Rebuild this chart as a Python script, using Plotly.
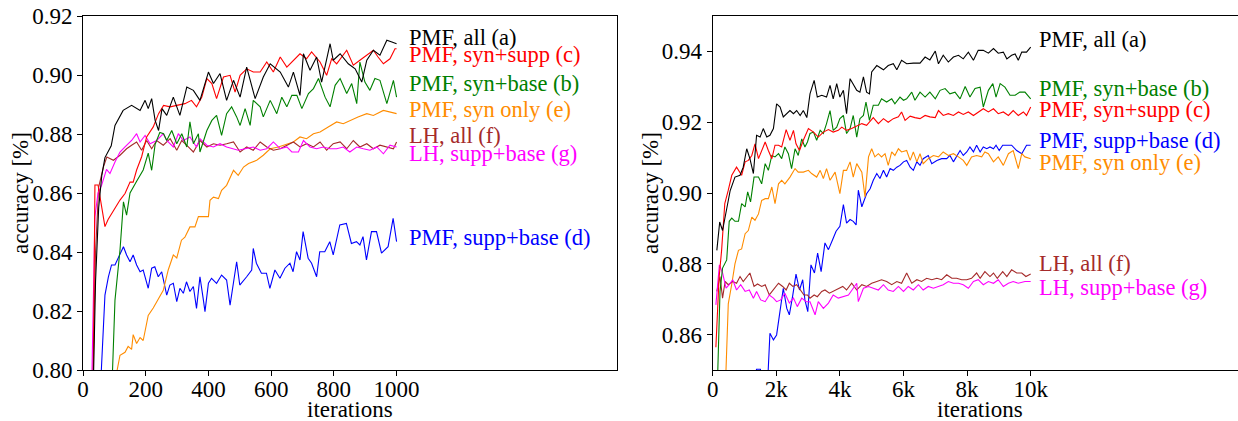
import plotly.graph_objects as go

FONT = "Liberation Serif, Times New Roman, serif"

# ---------------- Left panel data (iterations 0..1000) ----------------
L_all_x = [30,40,50,60,70,80,90,102,128,155,182,198,208,219,230,241,252,267,288,309,331,352,373,400,416,437,458,480,501,522,549,575,597,629,655,671,692,703,724,745,761,788,798,820,846,868,889,905,926,947,969,985,1000]
L_all_y = [0.78,0.83,0.855,0.866,0.872,0.874,0.876,0.8829,0.888,0.8897,0.888,0.8914,0.8886,0.892,0.8846,0.8812,0.8886,0.8863,0.8925,0.8863,0.8959,0.8948,0.8914,0.901,0.8971,0.9005,0.8914,0.8982,0.8925,0.9027,0.892,0.8993,0.9038,0.901,0.8959,0.901,0.8931,0.9072,0.9016,0.9061,0.8976,0.9106,0.905,0.9072,0.9038,0.9021,0.8976,0.905,0.9084,0.9067,0.9118,0.9112,0.9106]

L_synsupp_x = [30,38,48,70,80,102,118,134,150,160,171,187,203,224,241,257,278,299,325,346,362,379,395,411,426,448,469,485,501,522,543,565,586,607,629,650,671,692,713,729,756,777,793,809,841,862,883,905,926,941,958,979,995,1000]
L_synsupp_y = [0.76,0.8627,0.8627,0.8486,0.851,0.8548,0.8576,0.8598,0.8637,0.8637,0.8678,0.8723,0.879,0.8824,0.8869,0.8897,0.8892,0.8897,0.8903,0.8914,0.8892,0.8925,0.8988,0.8971,0.892,0.8993,0.8999,0.8942,0.8999,0.9021,0.901,0.901,0.9044,0.901,0.9061,0.9027,0.905,0.9072,0.9055,0.9078,0.9044,0.8999,0.9055,0.9038,0.9084,0.9033,0.905,0.9067,0.9084,0.9061,0.9038,0.9055,0.9089,0.9089]

L_synbase_x = [91,102,118,129,139,150,171,192,208,219,230,245,257,267,283,299,315,331,341,352,368,373,395,411,426,442,458,474,490,501,517,533,543,565,575,597,618,634,650,666,682,698,719,735,751,772,788,804,820,841,857,873,883,899,915,931,947,969,990,1000]
L_synbase_y = [0.79,0.8237,0.8407,0.857,0.8525,0.860,0.864,0.8678,0.8735,0.8677,0.8765,0.8805,0.8801,0.8778,0.8812,0.8767,0.8801,0.8756,0.8841,0.8767,0.8801,0.8739,0.8812,0.8846,0.8863,0.8795,0.8869,0.8892,0.8858,0.8829,0.8886,0.8829,0.8914,0.8892,0.8858,0.8914,0.8869,0.8925,0.8892,0.8931,0.8931,0.8886,0.8937,0.8954,0.8988,0.8925,0.8892,0.8965,0.8988,0.8937,0.8971,0.8903,0.9044,0.8976,0.8948,0.8988,0.8982,0.8903,0.8982,0.8925]

L_synonly_x = [91,118,134,144,155,160,171,182,192,208,224,235,245,256,272,288,299,314,325,341,357,368,384,400,405,416,432,442,458,480,495,512,528,554,575,597,623,650,671,692,713,735,756,782,809,830,851,877,905,926,958,979,1000]
L_synonly_y = [0.79,0.805,0.806,0.808,0.807,0.812,0.809,0.811,0.810,0.8185,0.821,0.823,0.825,0.827,0.834,0.839,0.838,0.844,0.845,0.8485,0.8485,0.852,0.852,0.852,0.8575,0.8586,0.8581,0.8609,0.8626,0.8677,0.866,0.8688,0.870,0.8711,0.8728,0.875,0.8756,0.8767,0.8773,0.879,0.8784,0.8801,0.8807,0.8824,0.8841,0.8835,0.8846,0.8858,0.8869,0.8863,0.888,0.8875,0.8869]

L_lhall_x = [30,40,50,65,76,97,118,139,155,171,187,203,219,235,256,278,299,315,336,352,373,395,416,437,458,480,501,522,543,565,586,607,629,650,671,692,713,735,756,777,798,820,841,862,883,905,926,947,969,990,1000]
L_lhall_y = [0.79,0.84,0.862,0.8688,0.8722,0.8711,0.8728,0.875,0.8762,0.8773,0.8745,0.8778,0.875,0.8778,0.8762,0.8784,0.8745,0.8778,0.8756,0.8739,0.8778,0.8756,0.8767,0.8762,0.8767,0.8773,0.8739,0.8756,0.8745,0.8773,0.8756,0.8745,0.875,0.8762,0.8773,0.8756,0.8767,0.8756,0.8773,0.8745,0.8767,0.8773,0.875,0.8778,0.8756,0.8767,0.875,0.8762,0.8756,0.875,0.8773]

L_lhsb_x = [27,38,48,59,75,86,102,118,134,155,171,182,198,214,235,256,267,288,304,320,341,362,373,395,416,437,458,480,495,517,543,565,586,607,629,650,666,687,703,724,745,766,788,809,830,851,873,894,915,937,958,979,1000]
L_lhsb_y = [0.79,0.852,0.860,0.8625,0.868,0.8666,0.8705,0.8739,0.8756,0.8778,0.8801,0.8773,0.8795,0.8767,0.8778,0.8801,0.8778,0.8756,0.8801,0.8778,0.879,0.8756,0.8784,0.8762,0.8756,0.8767,0.8756,0.875,0.8745,0.875,0.8756,0.8745,0.875,0.8773,0.875,0.8756,0.8739,0.8739,0.8778,0.8756,0.875,0.8756,0.875,0.875,0.8756,0.8739,0.8756,0.875,0.8745,0.8756,0.8733,0.8762,0.8756]

L_suppbase_x = [54,70,81,91,102,113,129,139,150,160,171,182,192,208,219,229,240,251,267,277,288,299,309,320,330,341,352,362,373,384,389,400,410,426,442,458,469,490,500,522,538,543,553,569,585,596,612,628,644,660,670,681,692,702,718,729,745,755,771,787,798,819,840,856,872,883,893,904,920,936,952,973,989,1000]
L_suppbase_y = [0.79,0.8254,0.8316,0.8356,0.8356,0.8379,0.8418,0.839,0.8367,0.839,0.8356,0.8333,0.8339,0.8277,0.8345,0.835,0.8316,0.8333,0.8254,0.8288,0.8294,0.8232,0.8277,0.826,0.8299,0.8266,0.8283,0.8209,0.8316,0.8237,0.8198,0.8294,0.8311,0.8294,0.8322,0.8305,0.822,0.8367,0.8288,0.8316,0.8339,0.8412,0.8362,0.8328,0.8328,0.8277,0.8339,0.8311,0.8345,0.8362,0.8333,0.8401,0.8373,0.8469,0.8379,0.8362,0.8316,0.8401,0.8401,0.8435,0.839,0.8492,0.8497,0.8429,0.8435,0.8424,0.8452,0.8373,0.8469,0.8469,0.8396,0.8418,0.8514,0.8435]

# ---------------- Right panel data (iterations 0..10k) ----------------
R_all_x = [130,220,310,440,550,700,860,960,1070,1170,1280,1380,1490,1590,1700,1800,1910,2010,2120,2220,2330,2430,2540,2640,2750,2850,2960,3060,3190,3290,3430,3580,3690,3790,3900,4000,4110,4210,4320,4420,4530,4630,4740,4840,4930,5000,5160,5370,5520,5680,5790,5940,6100,6310,6520,6680,6830,7000,7100,7250,7410,7570,7730,7880,8040,8200,8350,8510,8670,8830,8980,9140,9250,9400,9510,9610,9720,9870,10000]
R_all_y = [0.8838,0.8918,0.8894,0.8951,0.9007,0.9045,0.905,0.9073,0.9125,0.9097,0.9055,0.9163,0.9158,0.9182,0.9158,0.9163,0.9182,0.9252,0.9243,0.9215,0.9224,0.9233,0.9224,0.9233,0.9219,0.9233,0.9213,0.928,0.9318,0.9271,0.9276,0.9271,0.9304,0.9266,0.9309,0.9271,0.929,0.9224,0.9323,0.9309,0.929,0.9285,0.9328,0.9285,0.928,0.9342,0.936,0.9348,0.936,0.9365,0.9348,0.9375,0.9365,0.9367,0.9367,0.9384,0.9376,0.9401,0.9365,0.9389,0.937,0.9384,0.9389,0.9379,0.9398,0.9375,0.9403,0.9403,0.9395,0.9408,0.9395,0.9398,0.9379,0.9389,0.9393,0.9375,0.9398,0.9398,0.9412]

R_synsupp_x = [100,200,280,380,490,600,750,910,1020,1120,1230,1330,1440,1540,1650,1750,1860,1960,2070,2170,2310,2430,2540,2620,2730,2850,3010,3170,3320,3480,3640,3790,3950,4060,4210,4370,4530,4690,4840,5050,5210,5370,5520,5680,5840,5940,6050,6210,6360,6520,6680,6830,7000,7100,7250,7410,7570,7730,7880,8040,8200,8350,8510,8670,8830,8980,9140,9300,9450,9610,9770,9870,10000]
R_synsupp_y = [0.8564,0.876,0.8838,0.897,0.9008,0.905,0.9073,0.905,0.9088,0.9092,0.9106,0.9139,0.9097,0.912,0.9144,0.912,0.9097,0.9135,0.9135,0.913,0.9179,0.9149,0.9177,0.9139,0.912,0.9149,0.9182,0.9172,0.9158,0.9172,0.9179,0.9172,0.9177,0.9186,0.9177,0.9182,0.9188,0.9196,0.9191,0.9213,0.9196,0.921,0.920,0.921,0.9215,0.9229,0.9205,0.9217,0.9213,0.921,0.9219,0.9215,0.9213,0.9233,0.9219,0.9224,0.9219,0.9229,0.9222,0.9229,0.9219,0.9229,0.9238,0.9229,0.9238,0.9224,0.9229,0.9219,0.9233,0.9219,0.9229,0.9219,0.9243]

R_synbase_x = [130,230,310,440,520,600,700,810,910,1020,1100,1190,1300,1440,1540,1650,1750,1860,1960,2070,2170,2270,2380,2480,2590,2690,2800,2900,2980,3060,3170,3270,3380,3480,3580,3690,3790,3900,4000,4110,4210,4320,4420,4530,4630,4740,4820,4930,5050,5210,5310,5470,5630,5730,5890,6000,6100,6260,6360,6520,6680,6830,7000,7150,7310,7460,7620,7780,7940,8090,8250,8410,8510,8670,8810,8910,9040,9190,9350,9510,9660,9820,10000]
R_synbase_y = [0.84,0.8722,0.8788,0.8811,0.892,0.8929,0.892,0.892,0.897,0.8961,0.9003,0.8975,0.9045,0.9045,0.9026,0.9083,0.9064,0.9106,0.9102,0.9111,0.9097,0.913,0.9111,0.9069,0.9125,0.9106,0.9153,0.913,0.9144,0.9168,0.9172,0.9149,0.9177,0.9168,0.9196,0.9233,0.9177,0.9186,0.921,0.9219,0.9168,0.9182,0.9219,0.9158,0.921,0.9219,0.9257,0.9205,0.9248,0.9248,0.9266,0.9257,0.9266,0.9252,0.9271,0.9262,0.9266,0.9285,0.9262,0.9285,0.9271,0.9285,0.9266,0.929,0.9295,0.928,0.9285,0.9266,0.9301,0.9271,0.9295,0.9299,0.9243,0.929,0.9309,0.9271,0.9309,0.9299,0.9276,0.9276,0.9285,0.9285,0.9266]

R_synonly_x = [380,490,600,700,810,910,1020,1120,1230,1330,1440,1540,1650,1750,1860,1960,2070,2170,2270,2430,2590,2690,2850,3010,3110,3270,3380,3480,3580,3690,3850,4000,4110,4210,4320,4420,4530,4690,4790,4900,5000,5100,5210,5310,5420,5520,5630,5730,5840,5940,6100,6210,6310,6420,6520,6620,6780,6940,7100,7250,7410,7570,7730,7880,7990,8140,8300,8460,8560,8670,8830,8980,9140,9300,9450,9610,9720,9820,10000]
R_synonly_y = [0.84,0.8687,0.8743,0.88,0.8838,0.8842,0.8885,0.8894,0.8932,0.8923,0.8941,0.8979,0.8984,0.8984,0.9017,0.897,0.9026,0.9036,0.9026,0.9045,0.9069,0.9059,0.9059,0.9064,0.9055,0.9045,0.9064,0.9041,0.9069,0.9036,0.9059,0.8998,0.9064,0.9064,0.9088,0.9045,0.9083,0.9059,0.8989,0.9102,0.9125,0.9102,0.9111,0.9102,0.9111,0.9078,0.9116,0.9106,0.9125,0.9116,0.912,0.9092,0.9116,0.9088,0.9111,0.9083,0.9097,0.9106,0.9102,0.9116,0.9106,0.9111,0.9102,0.9092,0.9078,0.9102,0.9106,0.9102,0.9116,0.9111,0.9088,0.9102,0.9078,0.9111,0.912,0.9069,0.9111,0.9102,0.9097]

R_suppbase_x = [1000,1200,1380,1500,1600,1720,1800,1910,2010,2120,2220,2330,2410,2520,2620,2730,2830,2900,2990,3090,3200,3300,3410,3530,3640,3770,3880,4000,4110,4210,4320,4420,4510,4580,4690,4840,4950,5050,5160,5260,5370,5470,5580,5680,5790,5890,6000,6100,6210,6310,6420,6520,6620,6780,6890,7050,7200,7360,7460,7570,7670,7780,7880,7990,8090,8200,8300,8410,8510,8620,8720,8830,8910,9010,9120,9250,9400,9560,9720,9870,10000]
R_suppbase_y = [0.84,0.845,0.8502,0.8502,0.846,0.845,0.8604,0.8585,0.8599,0.8665,0.8731,0.8674,0.8656,0.8712,0.8771,0.8726,0.8755,0.8698,0.8665,0.8797,0.8774,0.883,0.8778,0.8859,0.884,0.8868,0.8892,0.8906,0.8967,0.8915,0.8925,0.892,0.891,0.9008,0.8961,0.8998,0.9012,0.9036,0.9055,0.9041,0.9064,0.9045,0.9069,0.9064,0.9073,0.9078,0.9088,0.9092,0.9073,0.9064,0.9088,0.9078,0.9097,0.9106,0.9083,0.9092,0.9097,0.9097,0.9106,0.9088,0.9102,0.912,0.9106,0.9116,0.913,0.9116,0.9135,0.9116,0.913,0.9125,0.913,0.9125,0.9135,0.912,0.9135,0.9135,0.9135,0.912,0.9111,0.9135,0.9135]

R_lhall_x = [130,230,310,390,490,630,750,860,960,1090,1170,1300,1410,1540,1650,1780,1910,2070,2200,2310,2410,2520,2640,2770,2870,2980,3060,3190,3290,3430,3530,3670,3790,3950,4090,4210,4370,4530,4690,4840,5000,5160,5310,5470,5630,5790,5940,6100,6260,6420,6570,6730,6890,7050,7200,7360,7520,7670,7830,7990,8140,8300,8410,8560,8720,8830,8950,9120,9250,9400,9560,9720,9850,10000]
R_lhall_y = [0.8722,0.8764,0.8703,0.875,0.8741,0.875,0.8745,0.8764,0.875,0.8764,0.8774,0.8736,0.8743,0.8736,0.8741,0.8712,0.8726,0.8745,0.8736,0.8726,0.8745,0.8736,0.8741,0.8726,0.8712,0.8712,0.8703,0.8712,0.8707,0.8722,0.8726,0.8717,0.8722,0.8731,0.8736,0.8726,0.8745,0.8726,0.8741,0.8736,0.8745,0.875,0.8755,0.875,0.8741,0.875,0.8745,0.8774,0.8745,0.8755,0.875,0.8759,0.8755,0.8759,0.8755,0.8769,0.8759,0.8759,0.8755,0.8755,0.8759,0.8774,0.8759,0.8778,0.8764,0.8774,0.8759,0.8778,0.8764,0.8783,0.8774,0.8774,0.8764,0.8771]

R_lhsb_x = [100,210,310,420,520,630,750,880,1020,1150,1280,1380,1510,1650,1780,1910,2010,2140,2270,2410,2540,2660,2800,2940,3060,3220,3320,3480,3640,3790,3950,4110,4270,4420,4530,4580,4740,4900,5050,5210,5370,5520,5680,5840,6000,6150,6310,6470,6620,6780,6940,7100,7250,7410,7570,7730,7880,8040,8200,8350,8510,8670,8830,8980,9140,9300,9450,9610,9820,10000]
R_lhsb_y = [0.8684,0.8797,0.8774,0.8731,0.8741,0.8755,0.8726,0.8741,0.8722,0.8726,0.8703,0.8722,0.8698,0.8693,0.8712,0.8703,0.8693,0.8698,0.8717,0.8689,0.8703,0.8679,0.8703,0.8693,0.8693,0.8656,0.8693,0.8674,0.8689,0.8712,0.8703,0.8707,0.8712,0.8731,0.8745,0.8693,0.8731,0.8736,0.8731,0.8726,0.8741,0.8726,0.8722,0.8736,0.8722,0.8736,0.8726,0.8741,0.8726,0.8736,0.8731,0.8736,0.8741,0.875,0.8745,0.8745,0.8741,0.8731,0.875,0.8755,0.8741,0.875,0.8745,0.8755,0.8736,0.8745,0.875,0.8745,0.875,0.875]

# series names / colours
NAMES = ["PMF, all (a)", "PMF, syn+base (b)", "PMF, syn+supp (c)", "PMF, supp+base (d)",
         "PMF, syn only (e)", "LH, all (f)", "LH, supp+base (g)"]
COLORS = ["#000000", "#008000", "#ff0000", "#0000ff", "#ff8c00", "#a52a2a", "#ff00ff"]

left_series = [(L_all_x, L_all_y), (L_synbase_x, L_synbase_y), (L_synsupp_x, L_synsupp_y),
               (L_suppbase_x, L_suppbase_y), (L_synonly_x, L_synonly_y),
               (L_lhall_x, L_lhall_y), (L_lhsb_x, L_lhsb_y)]
right_series = [(R_all_x, R_all_y), (R_synbase_x, R_synbase_y), (R_synsupp_x, R_synsupp_y),
                (R_suppbase_x, R_suppbase_y), (R_synonly_x, R_synonly_y),
                (R_lhall_x, R_lhall_y), (R_lhsb_x, R_lhsb_y)]

# tick labels
L_xticks = [0, 200, 400, 600, 800, 1000]
L_yticks = [0.80, 0.82, 0.84, 0.86, 0.88, 0.90, 0.92]
R_xticks = [0, 2000, 4000, 6000, 8000, 10000]
R_xticktext = ["0", "2k", "4k", "6k", "8k", "10k"]
R_yticks = [0.86, 0.88, 0.90, 0.92, 0.94]

W, H = 1238, 421
fig = go.Figure()
draw_order = [3, 4, 5, 6, 1, 2, 0]
for i in draw_order:
    x, y = left_series[i]
    fig.add_trace(go.Scatter(x=x, y=y, mode="lines", name=NAMES[i],
                             line=dict(color=COLORS[i], width=1.1), xaxis="x", yaxis="y"))
for i in draw_order:
    x, y = right_series[i]
    fig.add_trace(go.Scatter(x=x, y=y, mode="lines", name=NAMES[i],
                             line=dict(color=COLORS[i], width=1.1), xaxis="x2", yaxis="y2"))

tickfont = dict(family=FONT, size=23, color="black")
ax_common = dict(showgrid=False, zeroline=False, showline=True, linecolor="black", linewidth=1,
                 ticks="outside", ticklen=5, tickwidth=1, tickcolor="black", tickfont=tickfont,
                 automargin=False)

ydom = [1 - 370 / H, 1 - 16 / H]
fig.update_layout(
    width=W, height=H, margin=dict(l=0, r=0, t=0, b=0, autoexpand=False),
    font=dict(family=FONT, size=23, color="black"),
    paper_bgcolor="white", plot_bgcolor="white", showlegend=False,
    xaxis=dict(domain=[83 / W, 617 / W], range=[0, 1703], tickvals=L_xticks, mirror=True,
               ticklabelstandoff=-7, **ax_common),
    yaxis=dict(domain=ydom, range=[0.80, 0.92], tickvals=L_yticks, tickformat=".2f", mirror=True, **ax_common),
    xaxis2=dict(domain=[712.7 / W, 1.0], range=[0, 16520], tickvals=R_xticks, ticktext=R_xticktext,
                anchor="y2", mirror=True, ticklabelstandoff=-7, **ax_common),
    yaxis2=dict(domain=ydom, range=[0.85, 0.95], tickvals=R_yticks, tickformat=".2f",
                anchor="x2", mirror=False, **ax_common),
)

# series labels (series index, centre-y px)
label_size = 22.5
left_labels = [(0, 38), (2, 55), (1, 83), (4, 110), (5, 136), (6, 153), (3, 237)]
right_labels = [(0, 40), (1, 88), (2, 110), (3, 140), (4, 163), (5, 263), (6, 287)]
for i, ypx in left_labels:
    fig.add_annotation(x=407 / W, y=1 - ypx / H, xref="paper", yref="paper", text=NAMES[i],
                       showarrow=False, xanchor="left", yanchor="middle",
                       font=dict(family=FONT, size=label_size, color=COLORS[i]))
for i, ypx in right_labels:
    fig.add_annotation(x=1037 / W, y=1 - ypx / H, xref="paper", yref="paper", text=NAMES[i],
                       showarrow=False, xanchor="left", yanchor="middle",
                       font=dict(family=FONT, size=label_size, color=COLORS[i]))

# axis titles
title_font = dict(family=FONT, size=23, color="black")
for xpx in (350, 980):
    fig.add_annotation(x=xpx / W, y=1 - 409 / H, xref="paper", yref="paper", text="iterations",
                       showarrow=False, xanchor="center", yanchor="middle", font=title_font)
for xpx in (20, 650):
    fig.add_annotation(x=xpx / W, y=1 - 193 / H, xref="paper", yref="paper", text="accuracy [%]",
                       showarrow=False, xanchor="center", yanchor="middle", textangle=-90, font=title_font)

fig.write_html("out.html", config={"displayModeBar": False},
               post_script="document.body.style.margin='0';document.body.style.padding='0';")
